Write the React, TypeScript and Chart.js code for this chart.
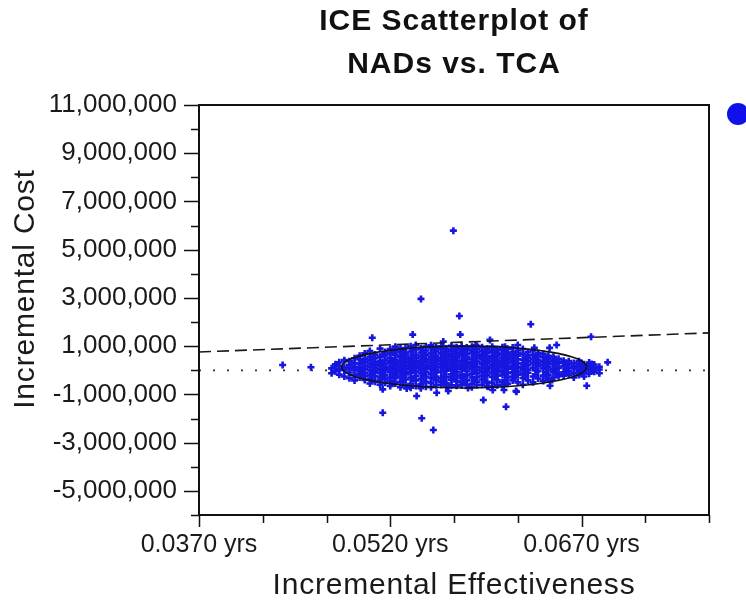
import React, { useEffect, useRef } from 'react';
import { Chart, registerables } from 'chart.js';

Chart.register(...registerables);

// ---- text ----
const titleLines = ['ICE Scatterplot of', 'NADs vs. TCA'];
const xAxisTitle = 'Incremental Effectiveness';
const yAxisTitle = 'Incremental Cost';

// ---- axes ----
const xMin = 0.037;
const xMax = 0.077;
const yMin = -6000000;
const yMax = 11000000;
const xTickValues = [0.037, 0.042, 0.047, 0.052, 0.057, 0.062, 0.067, 0.072, 0.077];
const xTickLabels = ['0.0370 yrs', '', '', '0.0520 yrs', '', '', '0.0670 yrs', '', ''];
const yTickValues = [
  -6000000, -5000000, -4000000, -3000000, -2000000, -1000000, 0, 1000000, 2000000,
  3000000, 4000000, 5000000, 6000000, 7000000, 8000000, 9000000, 10000000, 11000000,
];
const yTickLabels = [
  '', '-5,000,000', '', '-3,000,000', '', '-1,000,000', '', '1,000,000', '',
  '3,000,000', '', '5,000,000', '', '7,000,000', '', '9,000,000', '', '11,000,000',
];

// ---- reference lines ----
const wtpLine = [
  { x: 0.037, y: 760000 },
  { x: 0.077, y: 1550000 },
];
const zeroLine = [
  { x: 0.037, y: 0 },
  { x: 0.077, y: 0 },
];
// confidence ellipse (data units)
const ellipseCenterE = 0.0578;
const ellipseCenterC = 138000;
const ellipseRadiusE = 0.0096;
const ellipseRadiusC = 870000;

// ---- simulated ICE points: dense cluster, per effectiveness column, costs in $ thousands ----
const clusterColumns: [number, number[]][] = [
  [0.0474, [80, -120]],
  [0.0477, [250, -40, 160]],
  [0.0480, [330, 40, -180, 180]],
  [0.0484, [120, -260, 420, 0]],
  [0.0488, [230, -90, 380, -330, 90]],
  [0.0492, [500, 150, -200, 20, -420, 300]],
  [0.0496, [-50, 260, 600, -300, 110, -160, 450]],
  [0.0500, [350, -400, 60, 700, -100, 200, -250, 480]],
  [0.0504, [-550, 150, 420, 800, -200, 0, 280, -350, 560]],
  [0.0508, [-80, 330, -480, 650, 100, -250, 500, 220, -20]],
  [0.0512, [900, 40, -600, 380, -300, 180, 560, -120, 270, -420]],
  [0.0516, [-200, 620, 120, -520, 430, 0, 760, -360, 260, 90]],
  [0.0520, [300, -650, 520, -80, 880, 160, -300, 700, 40, -450, 380]],
  [0.0524, [-100, 450, 980, -550, 220, 60, -330, 650, 330, -180, 820]],
  [0.0528, [130, -700, 560, -260, 380, 760, -40, 250, -480, 900, 10]],
  [0.0532, [-380, 700, 200, -620, 480, 40, 920, -170, 330, 600, -80]],
  [0.0536, [1000, -300, 150, 520, -560, 360, -100, 780, 240, -720, 60, 420]],
  [0.0540, [-50, 640, -420, 280, 860, -230, 100, 500, -650, 380, 180, 1050]],
  [0.0544, [400, -580, 200, 740, -120, 30, 560, -350, 900, 300, -740, 120]],
  [0.0548, [-260, 980, 80, 460, -480, 640, 220, -60, 820, -680, 350, 150]],
  [0.0552, [560, -150, 300, -520, 720, 60, 930, -320, 430, 180, -700, 1040]],
  [0.0556, [-90, 380, 800, -420, 160, 600, -260, 940, 280, -620, 480, 20]],
  [0.0560, [700, -330, 120, 500, -600, 880, 250, -60, 380, 990, -480, 140]],
  [0.0564, [240, -540, 620, -20, 900, 350, -280, 760, 80, -680, 470, 180]],
  [0.0568, [-400, 820, 140, 560, -170, 1020, 300, -620, 660, 40, 420, -300]],
  [0.0572, [500, -80, 960, -450, 200, 720, 360, -250, 70, 860, -640, 600]],
  [0.0576, [-180, 640, 30, 900, -500, 400, 250, -330, 780, 120, 1000, -620]],
  [0.0580, [320, -600, 840, 100, -200, 560, 940, -420, 200, 680, -40, 450]],
  [0.0584, [-300, 720, 180, 480, -560, 980, 60, 340, -150, 820, -700, 250]],
  [0.0588, [620, -120, 360, -480, 880, 150, 530, -280, 1010, 20, 740, -620]],
  [0.0592, [100, 800, -380, 460, 250, -600, 960, -60, 650, 300, -220, 540]],
  [0.0596, [-480, 560, 40, 900, 320, -200, 720, 150, -660, 430, 860, -30]],
  [0.0600, [380, -280, 760, 110, -520, 600, 980, 230, -100, 500, -680, 820]],
  [0.0604, [-60, 880, 260, -400, 620, 50, 420, -620, 740, 170, -220]],
  [0.0608, [520, -500, 140, 840, -180, 360, 960, -40, 660, 240, -620]],
  [0.0612, [-300, 700, 60, 460, -560, 880, 300, -120, 580, 160]],
  [0.0616, [200, -420, 760, 380, -80, 940, 520, -260, 80, 640]],
  [0.0620, [-180, 600, 120, -500, 820, 300, 460, -50, 700]],
  [0.0624, [440, -320, 680, 40, -600, 260, 880, 160, -140]],
  [0.0628, [-100, 520, 220, -420, 760, 380, 20, 620]],
  [0.0632, [300, -260, 640, 100, -500, 460, 820]],
  [0.0636, [-40, 420, 180, -340, 600, 280, 720]],
  [0.0640, [360, -220, 540, 80, -440, 220, 680]],
  [0.0644, [120, 480, -180, 320, -380, 600]],
  [0.0648, [-60, 400, 240, -300, 560, 40]],
  [0.0652, [300, -160, 480, 100, -250]],
  [0.0656, [180, -80, 400, -220, 320]],
  [0.0660, [260, -40, 100, -180, 380]],
  [0.0664, [80, 300, -120, 180, -300]],
  [0.0668, [150, -60, 260, 20, -200, 380]],
  [0.0672, [100, -100, 250, -20, 160, -260]],
  [0.0676, [60, 200, -140, 0, 320]],
  [0.0680, [120, -60, 40, 240]],
  [0.0684, [30, -120, 150]],
];

// extra points filling the densest band of the cluster (costs in $ thousands)
const coreColumns: [number, number[]][] = [
  [0.0498, [20, 380, -200]],
  [0.0506, [-120, 210, 520, -380]],
  [0.0514, [-30, 330, 650, -250, 120]],
  [0.0522, [-220, 100, 420, 760, -520]],
  [0.0530, [-140, 160, 480, 820, -420, 640]],
  [0.0538, [-20, 300, 620, -360, 880, 200]],
  [0.0546, [-180, 110, 440, 760, -440, 600]],
  [0.0554, [0, 280, 560, -300, 860, 140]],
  [0.0562, [-220, 60, 420, 720, -460, 560]],
  [0.0570, [-100, 220, 540, 820, -360, 380]],
  [0.0578, [-260, 80, 360, 680, -480, 560]],
  [0.0586, [-60, 240, 580, 860, -380, 420]],
  [0.0594, [-200, 120, 420, 740, -420, 560]],
  [0.0602, [-80, 260, 600, -320, 860, 380]],
  [0.0610, [-160, 140, 440, 760, -400]],
  [0.0618, [-40, 300, 620, -300, 160]],
  [0.0626, [-120, 180, 480, -260, 340]],
  [0.0634, [0, 320, -200, 560]],
  [0.0642, [-80, 220, 460, -240]],
  [0.0650, [60, 320, -120]],
  [0.0658, [-20, 240, 120]],
  [0.0670, [60, 220, -100, 300]],
  [0.0678, [140, -20, 260]],
];

// ---- scattered points outside the dense core: [effectiveness (yrs), cost ($)] ----
const outlierPoints: [number, number][] = [
  [0.05695, 5790000],
  [0.05441, 2960000],
  [0.05742, 2250000],
  [0.06302, 1910000],
  [0.05059, 1350000],
  [0.05376, 1480000],
  [0.05749, 1480000],
  [0.05982, 1260000],
  [0.05616, 1190000],
  [0.06775, 1390000],
  [0.06505, 1050000],
  [0.04356, 220000],
  [0.04578, 125000],
  [0.06905, 330000],
  [0.05141, -790000],
  [0.05329, -750000],
  [0.05407, -1065000],
  [0.05564, -930000],
  [0.05655, -860000],
  [0.05930, -1230000],
  [0.06108, -1510000],
  [0.06186, -860000],
  [0.06453, -640000],
  [0.06741, -640000],
  [0.05141, -1760000],
  [0.05447, -1990000],
  [0.05538, -2475000],
  [0.05870, 1050000],
  [0.06100, 980000],
  [0.06200, 1050000],
  [0.06330, 930000],
  [0.06450, 930000],
  [0.05810, -730000],
  [0.05970, -680000],
  [0.06110, -540000],
  [0.06190, -890000],
  [0.06470, -400000],
  [0.05433, -650000],
  [0.06004, -820000],
  [0.06092, -820000],
];

const POINT_COLOR = 'rgb(22,22,225)';
const INK = '#1a1a1a';

const scatterData = [
  ...clusterColumns.flatMap(([e, costsK]) => costsK.map((c) => ({ x: e, y: c * 1000 }))),
  ...coreColumns.flatMap(([e, costsK]) => costsK.map((c) => ({ x: e, y: c * 1000 }))),
  ...outlierPoints.map(([e, c]) => ({ x: e, y: c })),
];

const decorPlugin = {
  id: 'decor',
  afterDatasetsDraw(chart: any) {
    const { ctx, chartArea: a, scales } = chart;
    const xs = scales.x;
    const ys = scales.y;
    ctx.save();
    ctx.beginPath();
    ctx.rect(a.left, a.top, a.right - a.left, a.bottom - a.top);
    ctx.clip();
    const cx = xs.getPixelForValue(ellipseCenterE);
    const cy = ys.getPixelForValue(ellipseCenterC);
    const rx = Math.abs(xs.getPixelForValue(ellipseCenterE + ellipseRadiusE) - cx);
    const ry = Math.abs(ys.getPixelForValue(ellipseCenterC + ellipseRadiusC) - cy);
    ctx.beginPath();
    ctx.ellipse(cx, cy, rx, ry, 0, 0, Math.PI * 2);
    ctx.strokeStyle = '#111';
    ctx.lineWidth = 1.6;
    ctx.stroke();
    ctx.restore();
  },
  afterDraw(chart: any) {
    const { ctx, chartArea: a, scales } = chart;
    const xs = scales.x;
    const ys = scales.y;
    ctx.save();
    // frame
    ctx.strokeStyle = '#111';
    ctx.lineWidth = 2;
    ctx.strokeRect(a.left, a.top, a.right - a.left, a.bottom - a.top);
    // tick marks
    ctx.lineWidth = 1.5;
    ctx.beginPath();
    ys.ticks.forEach((t: any) => {
      const py = Math.round(ys.getPixelForValue(t.value)) + 0.5;
      const len = t.label ? 15 : 8;
      ctx.moveTo(a.left - len, py);
      ctx.lineTo(a.left, py);
    });
    xs.ticks.forEach((t: any) => {
      const px = Math.round(xs.getPixelForValue(t.value)) + 0.5;
      const len = t.label ? 12 : 8;
      ctx.moveTo(px, a.bottom);
      ctx.lineTo(px, a.bottom + len);
    });
    ctx.stroke();

    // titles
    const midX = (a.left + a.right) / 2;
    ctx.fillStyle = '#111';
    ctx.textAlign = 'center';
    ctx.textBaseline = 'middle';
    (ctx as any).letterSpacing = '1px';
    ctx.font = 'bold 30px "Liberation Sans", Arial, sans-serif';
    ctx.fillText(titleLines[0], midX, 22);
    ctx.fillText(titleLines[1], midX, 65);

    (ctx as any).letterSpacing = '0.8px';
    ctx.font = '30px "Liberation Sans", Arial, sans-serif';
    ctx.fillStyle = INK;
    ctx.fillText(xAxisTitle, midX, 586);

    ctx.save();
    ctx.translate(26, (a.top + a.bottom) / 2 - 21);
    ctx.rotate(-Math.PI / 2);
    ctx.fillText(yAxisTitle, 0, 0);
    ctx.restore();

    // legend marker
    ctx.beginPath();
    ctx.arc(a.right + 29, a.top + 9, 11, 0, Math.PI * 2);
    ctx.fillStyle = 'rgb(16,16,235)';
    ctx.fill();
    ctx.restore();
  },
};

export default function App() {
  const ref = useRef<HTMLCanvasElement>(null);

  useEffect(() => {
    const canvas = ref.current;
    if (!canvas) return;
    const chart = new Chart(canvas, {
      type: 'scatter',
      data: {
        datasets: [
          {
            label: 'WTP',
            type: 'line',
            data: wtpLine,
            borderColor: '#1a1a1a',
            borderWidth: 1.6,
            borderDash: [12, 6],
            pointRadius: 0,
            fill: false,
            order: 0,
          } as any,
          {
            label: 'NADs vs. TCA',
            data: scatterData,
            pointStyle: 'cross',
            pointRadius: 3.5,
            pointBorderWidth: 2.6,
            borderColor: POINT_COLOR,
            backgroundColor: POINT_COLOR,
            order: 1,
          } as any,
          {
            label: 'zero',
            type: 'line',
            data: zeroLine,
            borderColor: '#333',
            borderWidth: 1.8,
            borderDash: [2, 12],
            pointRadius: 0,
            fill: false,
            order: 2,
          } as any,
        ],
      },
      options: {
        responsive: false,
        animation: false,
        devicePixelRatio: 1,
        layout: { padding: { top: 105, right: 37, left: 0, bottom: 0 } },
        plugins: {
          legend: { display: false },
          tooltip: { enabled: false },
          title: { display: false },
        },
        scales: {
          x: {
            type: 'linear',
            min: xMin,
            max: xMax,
            grid: { display: false, drawTicks: false },
            border: { display: false },
            afterFit: (s: any) => {
              s.height = 89;
            },
            afterBuildTicks: (s: any) => {
              s.ticks = xTickValues.map((v) => ({ value: v }));
            },
            ticks: {
              autoSkip: false,
              maxRotation: 0,
              padding: 15,
              color: INK,
              font: { family: '"Liberation Sans", Arial, sans-serif', size: 25 },
              callback: (_v: any, i: number) => xTickLabels[i],
            },
          },
          y: {
            type: 'linear',
            min: yMin,
            max: yMax,
            grid: { display: false, drawTicks: false },
            border: { display: false },
            afterFit: (s: any) => {
              s.width = 199;
            },
            afterBuildTicks: (s: any) => {
              s.ticks = yTickValues.map((v) => ({ value: v }));
            },
            ticks: {
              autoSkip: false,
              padding: 22,
              color: INK,
              font: { family: '"Liberation Sans", Arial, sans-serif', size: 26 },
              callback: (_v: any, i: number) => yTickLabels[i],
            },
          },
        },
      } as any,
      plugins: [decorPlugin],
    });
    return () => chart.destroy();
  }, []);

  return (
    <div style={{ position: 'absolute', left: 0, top: 0, width: 746, height: 604, background: '#fff' }}>
      <canvas ref={ref} width={746} height={604} style={{ display: 'block', width: 746, height: 604 }} />
    </div>
  );
}
